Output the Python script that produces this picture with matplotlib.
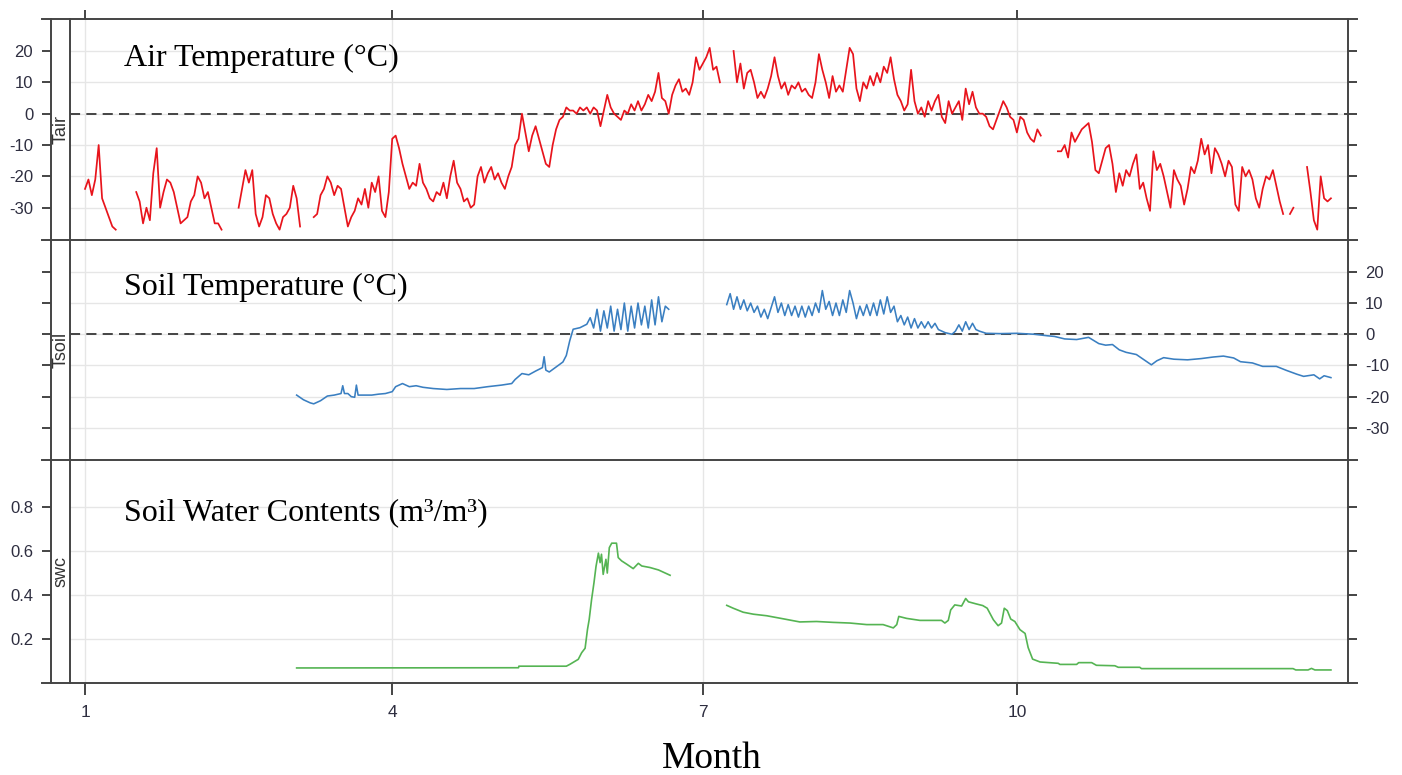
import numpy as np
import matplotlib
matplotlib.use("Agg")
import matplotlib.pyplot as plt
from matplotlib.lines import Line2D

nan = np.nan

# x axis = day of year (0 = 1 Jan); ticks at the first day of months 1, 4, 7, 10
month_days = [0, 90, 181, 273]
month_labels = ["1", "4", "7", "10"]

# daily air temperature, day 0 .. 365 (nan = missing)
tair = [
    -24, -21, -26, -21, -10, -27, -30, -33, -36, -37,
    nan, nan, nan, nan, nan, -25, -28, -35, -30, -34,
    -19, -11, -30, -25, -21, -22, -25, -30, -35, -34,
    -33, -28, -26, -20, -22, -27, -25, -30, -35, -35,
    -37, nan, nan, nan, nan, -30, -24, -18, -22, -18,
    -32, -36, -33, -26, -27, -32, -35, -37, -33, -32,
    -30, -23, -27, -36, nan, nan, nan, -33, -32, -26,
    -24, -20, -22, -26, -23, -24, -30, -36, -33, -31,
    -27, -29, -24, -30, -22, -25, -20, -31, -33, -25,
    -8, -7, -11, -16, -20, -24, -22, -23, -16, -22,
    -24, -27, -28, -25, -26, -22, -27, -20, -15, -22,
    -24, -28, -27, -30, -29, -20, -17, -22, -19, -17,
    -21, -19, -22, -24, -20, -17, -10, -8, 0, -6,
    -12, -7, -4, -8, -12, -16, -17, -10, -5, -2,
    -1, 2, 1, 1, 0, 2, 1, 2, 0, 2,
    1, -4, 1, 6, 2, 0, -1, -2, 1, 0,
    3, 1, 4, 1, 3, 6, 4, 7, 13, 5,
    4, 0, 6, 9, 11, 7, 8, 6, 10, 18,
    14, 16, 18, 21, 14, 15, 10, nan, nan, nan,
    20, 10, 16, 8, 13, 14, 10, 5, 7, 5,
    8, 12, 18, 12, 8, 10, 6, 9, 8, 10,
    7, 8, 6, 5, 10, 19, 14, 10, 5, 12,
    7, 9, 7, 14, 21, 19, 8, 4, 10, 8,
    12, 9, 13, 10, 15, 13, 18, 11, 6, 4,
    1, 3, 14, 4, 0, 2, -1, 4, 1, 4,
    6, -1, -3, 4, 0, 2, 4, -2, 8, 3,
    7, 2, 0, 0, -1, -4, -5, -2, 1, 4,
    2, -1, -2, -6, -1, -2, -6, -8, -9, -5,
    -7, nan, nan, nan, nan, -12, -12, -10, -14, -6,
    -9, -7, -5, -4, -3, -9, -18, -19, -15, -11,
    -10, -16, -25, -19, -23, -18, -20, -16, -13, -24,
    -22, -27, -31, -12, -18, -16, -20, -25, -30, -18,
    -21, -23, -29, -24, -17, -19, -15, -8, -13, -10,
    -19, -11, -13, -16, -20, -15, -17, -29, -31, -17,
    -20, -18, -21, -27, -30, -24, -20, -21, -18, -23,
    -28, -32, nan, -32, -30, nan, nan, nan, -17, -25,
    -34, -37, -20, -27, -28, -27,
]

# soil temperature: spring (sparse), early summer (daily), summer (daily), autumn (sparse)
tsoil_day_a = [62, 64, 66, 67, 69, 71, 73, 75, 75.5, 76, 77, 78, 79, 79.5, 80,
               82, 84, 86, 88, 90, 91, 93, 95, 97, 99, 102, 106, 110, 114, 118,
               122, 125, 126, 128, 130, 132, 134, 134.5, 135, 136, 138, 140,
               141, 142, 143, 145, 147]
tsoil_a = [-19.5, -21, -22, -22.3, -21.3, -19.8, -19.5, -19, -16.5, -19, -19, -20,
           -20.2, -16.3, -19.5, -19.5, -19.5, -19.2, -19, -18.4, -16.8, -15.8,
           -16.8, -16.5, -17, -17.4, -17.7, -17.4, -17.4, -16.8, -16.3, -15.8,
           -14.5, -12.6, -13, -11.8, -10.7, -7.2, -11.5, -12.1, -10.5, -8.9,
           -6.8, -2.1, 1.6, 2.1, 3.2]
tsoil_b_start = 148
tsoil_b = [5.3, 2, 8, 1, 7.5, 2, 9, 1, 8, 1.5, 10, 1, 9, 2, 10, 3, 9, 2, 11, 3,
           12, 4, 9, 8]
tsoil_c_start = 188
tsoil_c = [9.5, 13, 8, 12, 8, 11, 7.5, 10, 7, 9,
           5.5, 8, 5, 8.5, 12, 7, 10, 6, 9.5, 6,
           9, 5.5, 9, 5.5, 9, 6, 10, 7, 14, 8,
           10.5, 6, 10, 6, 11, 7, 14, 10, 5, 9,
           6, 9.5, 6, 10, 6, 11, 6.5, 12, 7, 9,
           4, 6, 3, 5.5, 2, 5, 2, 4, 2, 4,
           2, 3.5, 1.5]
tsoil_day_d = [252, 254, 255, 256, 257, 258, 259, 260, 261, 262, 264, 268, 273,
               278, 282, 284, 287, 290.5, 294, 297, 299, 301, 303, 305, 308, 310,
               312.4, 314, 316, 319, 323, 327, 330.5, 333.5, 336.5, 338.5, 342,
               345, 349, 352, 355, 357, 360, 361.7, 363, 365]
tsoil_d = [0.5, 0, 1, 3, 1, 4, 1.5, 3.5, 1.5, 1, 0.3, 0.2, 0.3, 0, -0.5, -0.7,
           -1.5, -1.7, -1.0, -3, -3.5, -3.3, -5, -5.8, -6.5, -8, -9.8, -8.5,
           -7.5, -8, -8.2, -7.8, -7.3, -7.0, -7.6, -8.8, -9.2, -10.3, -10.3,
           -11.6, -12.8, -13.5, -13, -14.3, -13.3, -13.9]

# soil water content (m3/m3)
swc_day = [62, 127, 127.1, 141, 142, 144.5, 145.5, 146.5, 147.2, 147.7, 148.4,
           149.1, 149.7, 150.4, 150.9, 151.3, 151.8, 152.6, 153, 153.6, 154.3,
           155.7, 156.2, 157.2, 158.7, 160.6, 162.1, 163.1, 165.5, 168, 171.4,
           172, 188, 189.9, 192.8, 195.8, 199.7, 204.6, 209.4, 214.3, 219.2,
           224.1, 229, 233.8, 236.8, 237.8, 238.4, 240.7, 244.6, 248.5, 250.9,
           251.9, 252.9, 253.6, 254.8, 256.8, 258, 258.8, 261.2, 263, 264.3,
           266.1, 267.5, 268.5, 269.3, 270.2, 271.2, 272.4, 273.9, 275.4,
           276.3, 277.6, 279.8, 285.1, 285.6, 290.5, 291.1, 294.9, 296.3,
           301.7, 302.7, 309, 309.5, 353.9, 354.7, 358.3, 359.3, 360.3, 365]
swc = [0.071, 0.072, 0.079, 0.079, 0.087, 0.11, 0.14, 0.16, 0.245, 0.29, 0.38,
       0.456, 0.53, 0.59, 0.547, 0.585, 0.494, 0.562, 0.50, 0.615, 0.635,
       0.635, 0.57, 0.555, 0.54, 0.52, 0.544, 0.532, 0.525, 0.514, 0.49,
       nan, 0.354, 0.341, 0.323, 0.314, 0.307, 0.293, 0.279, 0.281, 0.277,
       0.274, 0.267, 0.267, 0.252, 0.267, 0.304, 0.295, 0.286, 0.286, 0.286,
       0.274, 0.286, 0.333, 0.356, 0.351, 0.385, 0.37, 0.36, 0.353, 0.341,
       0.289, 0.262, 0.274, 0.341, 0.330, 0.292, 0.281, 0.244, 0.227,
       0.163, 0.111, 0.098, 0.092, 0.087, 0.087, 0.095, 0.095, 0.083,
       0.081, 0.074, 0.074, 0.068, 0.068, 0.062, 0.062, 0.069, 0.062, 0.062]

temp_ticks = [-30, -20, -10, 0, 10, 20]
swc_ticks = [0.2, 0.4, 0.6, 0.8]

plt.rcParams["axes.unicode_minus"] = False
plt.rcParams["font.family"] = ["Liberation Sans", "DejaVu Sans"]

W, H = 1402, 775
FRAME = "#444444"
LW = 1.4
fig = plt.figure(figsize=(W / 100, H / 100), dpi=100)

LEFT, RIGHT = 70, 1348
rows = [(19, 240), (240, 460), (460, 683)]
axes = []
for top, bot in rows:
    ax = fig.add_axes([LEFT / W, 1 - bot / H, (RIGHT - LEFT) / W, (bot - top) / H])
    ax.set_xlim(-4.4, 370)
    ax.set_xticks(month_days)
    ax.set_xticklabels(month_labels)
    ax.set_axisbelow(True)
    ax.grid(color="#e6e6e6", lw=1.0)
    for s in ("top", "bottom"):
        ax.spines[s].set_visible(False)
    ax.spines["left"].set_position(("outward", 13.7))
    for s in ("left", "right"):
        ax.spines[s].set_color(FRAME)
        ax.spines[s].set_linewidth(LW)
    ax.tick_params(direction="out", length=6.8, width=LW, color=FRAME,
                   labelsize=12, labelcolor="#2e2e40")
    ax.tick_params(axis="y", left=True, right=True)
    ax.tick_params(axis="y", which="major", pad=6.0)
    ax.tick_params(axis="x", top=False, bottom=False, labelbottom=False,
                   labeltop=False)
    axes.append(ax)

ax1, ax2, ax3 = axes
for ax in (ax1, ax2):
    ax.set_ylim(-40.3, 30.2)
    ax.set_yticks(temp_ticks)
    ax.axhline(0, color=FRAME, lw=1.4, ls=(0, (5.2, 3.2)), zorder=1)
ax3.set_ylim(0.003, 1.011)
ax3.set_yticks(swc_ticks)

ax1.tick_params(axis="y", labelleft=True, labelright=False)
ax1.tick_params(axis="x", top=True)
ax2.tick_params(axis="y", labelleft=False, labelright=True)
ax2.yaxis.set_tick_params(which="major", pad=5.5)
ax3.tick_params(axis="y", labelleft=True, labelright=False)
ax3.tick_params(axis="x", bottom=True, labelbottom=True, pad=7.5, length=8.4,
                labelsize=12.5)

# data
days = np.arange(len(tair))
ax1.plot(days, tair, color="#e8141c", lw=1.25, zorder=3)

blue = "#3a7fc1"
ax2.plot(tsoil_day_a + list(range(tsoil_b_start, tsoil_b_start + len(tsoil_b))),
         tsoil_a + tsoil_b, color=blue, lw=1.15, zorder=3)
ax2.plot(list(range(tsoil_c_start, tsoil_c_start + len(tsoil_c))) + tsoil_day_d,
         tsoil_c + tsoil_d, color=blue, lw=1.15, zorder=3)

ax3.plot(swc_day, swc, color="#55b453", lw=1.2, zorder=3)

# panel titles
serif = ["Liberation Serif", "DejaVu Serif"]
ax1.text(0.0423, 0.789, "Air Temperature (°C)", transform=ax1.transAxes,
         fontsize=23, family=serif, va="baseline")
ax2.text(0.0423, 0.750, "Soil Temperature (°C)", transform=ax2.transAxes,
         fontsize=23, family=serif, va="baseline")
ax3.text(0.0423, 0.728, "Soil Water Contents (m³/m³)", transform=ax3.transAxes,
         fontsize=23, family=serif, va="baseline")

# strips on the left
for (top, bot), name in zip(rows, ["Tair", "Tsoil", "swc"]):
    fig.text(61 / W, 1 - (top + bot) / 2 / H, name, rotation=90,
             ha="center", va="center", fontsize=13, color="#333333")

# frame lines of the lattice layout
for y in (19, 240, 460, 683):
    fig.add_artist(Line2D([42 / W, 1357 / W], [1 - y / H, 1 - y / H],
                          color=FRAME, lw=LW))
fig.add_artist(Line2D([70 / W, 70 / W], [1 - 19 / H, 1 - 683 / H],
                      color=FRAME, lw=LW))

fig.text(712 / W, 1 - 768 / H, "Month", fontsize=27, family=serif,
         ha="center", va="baseline")

fig.savefig("out.png", dpi=100)
